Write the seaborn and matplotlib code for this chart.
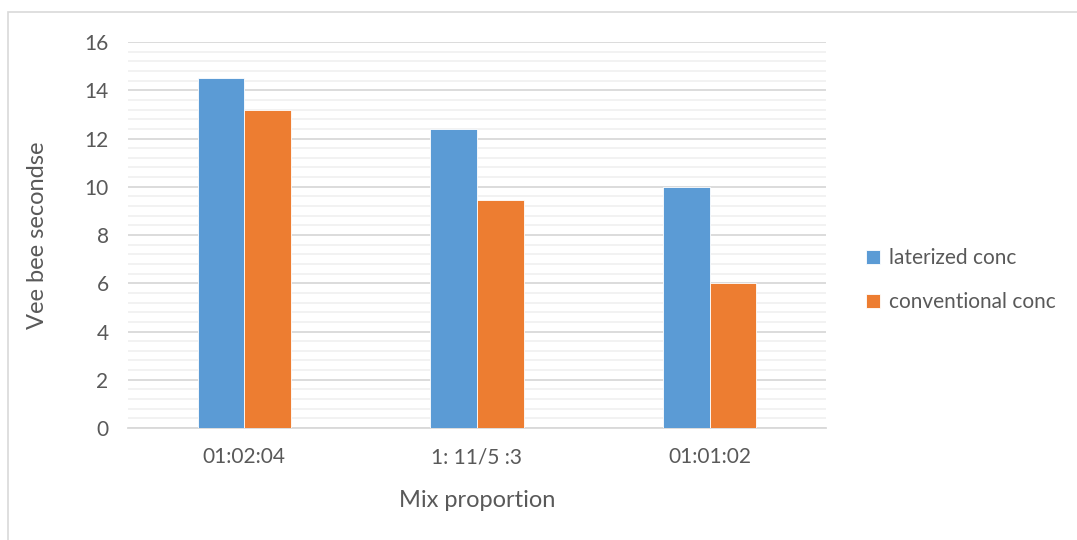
import matplotlib
matplotlib.use("Agg")
import matplotlib.pyplot as plt
from matplotlib.patches import Rectangle
import seaborn as sns
import pandas as pd
import numpy as np

categories = ["01:02:04", "1: 11/5 :3", "01:01:02"]
laterized = [14.5, 12.4, 10.0]
conventional = [13.2, 9.45, 6.0]
series_names = ["laterized conc", "conventional conc"]
yticks = [0, 2, 4, 6, 8, 10, 12, 14, 16]

df = pd.DataFrame({
    "mix": categories * 2,
    "value": laterized + conventional,
    "series": [series_names[0]] * 3 + [series_names[1]] * 3,
})

sns.set_theme(style="white")
plt.rcParams["font.family"] = ["Lato", "DejaVu Sans"]
text_color = "#595959"

fig = plt.figure(figsize=(10.77, 5.40), dpi=100)
ax = fig.add_axes([128 / 1077, 112 / 540, 698 / 1077, 386 / 540])

# outer chart frame
fig.patches.append(Rectangle((8 / 1077, -0.05), 1.2, 0.05 + (540 - 12) / 540,
                             transform=fig.transFigure, fill=False,
                             edgecolor="#d9d9d9", linewidth=1.2))

sns.barplot(data=df, x="mix", y="value", hue="series", order=categories,
            hue_order=series_names, palette=["#5b9bd5", "#ed7d31"],
            saturation=1, width=0.4, ax=ax, edgecolor="white",
            linewidth=0.6, zorder=3)

ax.set_ylim(0, 16)
ax.set_xlim(-0.5, 2.5)
ax.set_yticks(yticks)
ax.set_yticks(np.arange(0, 16.01, 0.4), minor=True)
ax.grid(axis="y", which="major", color="#d9d9d9", linewidth=1.3, zorder=0)
ax.grid(axis="y", which="minor", color="#f0f0f0", linewidth=1.2, zorder=0)
ax.set_axisbelow(True)
for s in ["top", "right", "left"]:
    ax.spines[s].set_visible(False)
ax.spines["bottom"].set_color("#d9d9d9")
ax.spines["bottom"].set_linewidth(1.3)

ax.tick_params(axis="both", which="both", length=0, labelsize=15,
               labelcolor=text_color)
ax.tick_params(axis="x", pad=14)
ax.tick_params(axis="y", pad=14)
ax.set_xlabel("Mix proportion", fontsize=17, color=text_color, labelpad=16)
ax.set_ylabel("Vee bee secondse", fontsize=17, color=text_color, labelpad=26)

leg = ax.legend(loc="center left", bbox_to_anchor=(1.03, 0.383), frameon=False,
                fontsize=15, labelcolor=text_color, handlelength=0.7,
                handleheight=0.7, handletextpad=0.4, labelspacing=1.15)

fig.savefig("out.png", dpi=100, facecolor="white")
